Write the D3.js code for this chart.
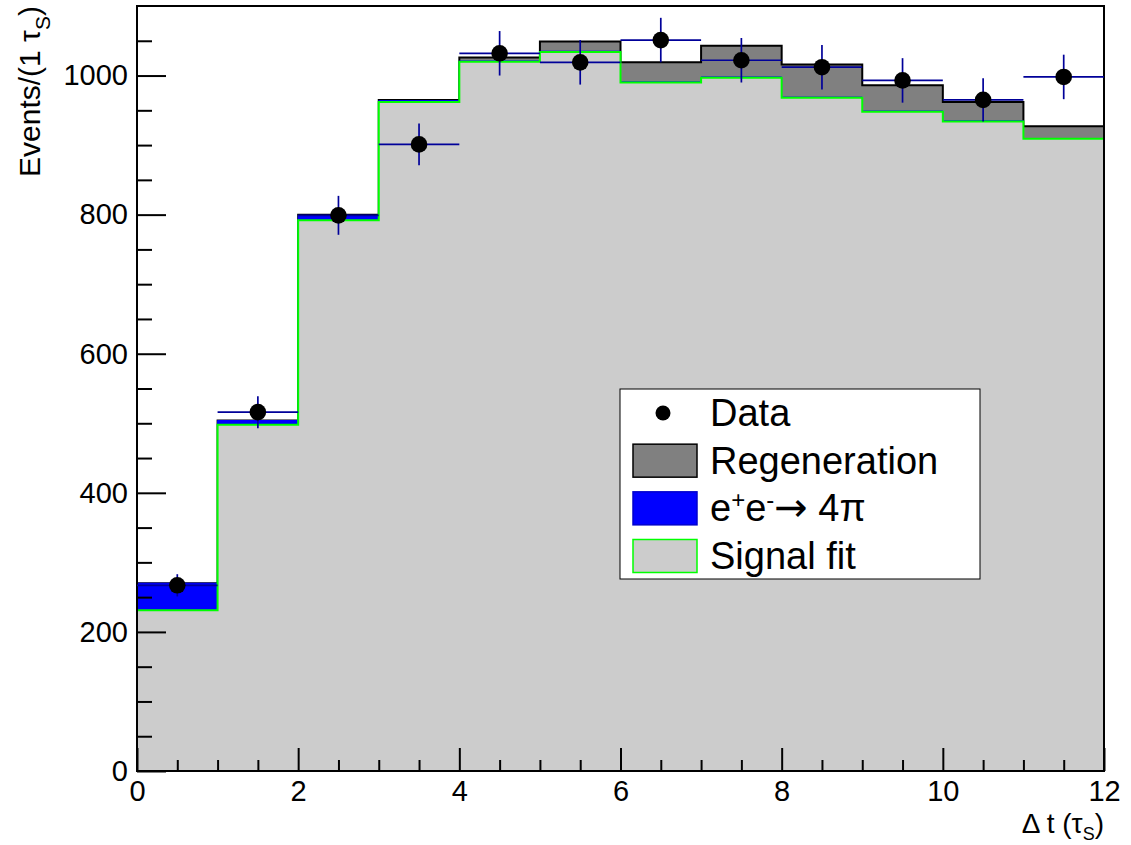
<!DOCTYPE html>
<html>
<head>
<meta charset="utf-8">
<script src="https://cdn.jsdelivr.net/npm/d3@7"></script>
<style>
  html, body { margin: 0; padding: 0; background: #fff; }
  svg text { font-family: "Liberation Sans", Arial, Helvetica, sans-serif; fill: #000; }
</style>
</head>
<body>
<svg id="chart" width="1131" height="845"></svg>
<script>
// bin lower edges, in units of tau_S (bin width 1)
const binLow = [0, 1, 2, 3, 4, 5, 6, 7, 8, 9, 10, 11];
const signalFit = [231, 498, 792, 962, 1020, 1034, 990, 997, 968, 948, 934, 909];
const eeTo4pi = [39, 6, 7, 2, 1, 1, 1, 1, 1, 1, 1, 0];
const regeneration = [0, 0, 1, 1, 5, 14, 28, 45, 47, 37, 27, 18];
const dataCounts = [267, 516, 799, 901, 1032, 1019, 1051, 1022, 1012, 993, 965, 998];
const dataErr = [16, 23, 28, 30, 32, 32, 32, 32, 32, 32, 31, 32];

const yMajor = [0, 200, 400, 600, 800, 1000];
const yMinor = [50, 100, 150, 250, 300, 350, 450, 500, 550, 650, 700, 750, 850, 900, 950, 1050];
const xMajor = [0, 2, 4, 6, 8, 10, 12];
const xMinor = [0.5, 1, 1.5, 2.5, 3, 3.5, 4.5, 5, 5.5, 6.5, 7, 7.5, 8.5, 9, 9.5, 10.5, 11, 11.5];

const svg = d3.select("#chart");
const padL = 137, padR = 1104, padT = 6, padB = 771;

const x = d3.scaleLinear().domain([0, 12]).range([padL, padR]);
const y = d3.scaleLinear().domain([0, 1100]).range([padB, padT]);

// stack table built from the arrays
const table = binLow.map((b, i) => ({
  x0: b,
  signal: signalFit[i],
  pi4: eeTo4pi[i],
  regen: regeneration[i],
}));
const stacked = d3.stack().keys(["signal", "pi4", "regen"])(table);

// repeat last bin so the step reaches the right edge
function stepPoints(layer) {
  const pts = layer.map((d) => ({ x: d.data.x0, v: d[1] }));
  pts.push({ x: 12, v: layer[layer.length - 1][1] });
  return pts;
}

const area = d3
  .area()
  .curve(d3.curveStepAfter)
  .x((d) => x(d.x))
  .y0(y(0))
  .y1((d) => y(d.v));
const line = d3
  .line()
  .curve(d3.curveStepAfter)
  .x((d) => x(d.x))
  .y((d) => y(d.v));

// ROOT draws the stack from the full sum down to the first histogram
const styles = [
  { fill: "#cccccc", stroke: "#00ff00", width: 2 },
  { fill: "#0000ff", stroke: "#0000ff", width: 1 },
  { fill: "#808080", stroke: "#000000", width: 2 },
];
const gHist = svg.append("g");
[2, 1, 0].forEach((k) => {
  const pts = stepPoints(stacked[k]);
  gHist.append("path").attr("d", area(pts)).attr("fill", styles[k].fill);
  gHist
    .append("path")
    .attr("d", line(pts))
    .attr("fill", "none")
    .attr("stroke", styles[k].stroke)
    .attr("stroke-width", styles[k].width);
});

// axes with inward ticks
const gy = svg.append("g").attr("transform", `translate(${padL},0)`);
gy.call(d3.axisLeft(y).tickValues(yMajor).tickSize(-29).tickSizeOuter(0).tickPadding(9).tickFormat(d3.format("d")));
gy.append("g").call(d3.axisLeft(y).tickValues(yMinor).tickSize(-15).tickSizeOuter(0).tickFormat(""));

const gx = svg.append("g").attr("transform", `translate(0,${padB})`);
gx.call(d3.axisBottom(x).tickValues(xMajor).tickSize(-23).tickSizeOuter(0).tickPadding(9).tickFormat(d3.format("d")));
gx.append("g").call(d3.axisBottom(x).tickValues(xMinor).tickSize(-11).tickSizeOuter(0).tickFormat(""));

svg.selectAll(".domain").remove();
svg.selectAll(".tick line").attr("stroke", "#000").attr("stroke-width", 2);
svg.selectAll(".tick text").attr("font-size", 29).attr("font-family", "Liberation Sans, Arial, sans-serif").attr("fill", "#000");

// frame
svg
  .append("rect")
  .attr("x", padL)
  .attr("y", padT)
  .attr("width", padR - padL)
  .attr("height", padB - padT)
  .attr("fill", "none")
  .attr("stroke", "#000")
  .attr("stroke-width", 2);

// data points with errors
const gData = svg.append("g");
const errColor = "#000099";
binLow.forEach((b, i) => {
  const cx = x(b + 0.5);
  gData
    .append("line")
    .attr("x1", x(b))
    .attr("x2", x(b + 1))
    .attr("y1", y(dataCounts[i]))
    .attr("y2", y(dataCounts[i]))
    .attr("stroke", errColor)
    .attr("stroke-width", 1.7);
  gData
    .append("line")
    .attr("x1", cx)
    .attr("x2", cx)
    .attr("y1", y(dataCounts[i] - dataErr[i]))
    .attr("y2", y(dataCounts[i] + dataErr[i]))
    .attr("stroke", errColor)
    .attr("stroke-width", 1.7);
});
gData
  .selectAll("circle")
  .data(dataCounts)
  .join("circle")
  .attr("cx", (d, i) => x(binLow[i] + 0.5))
  .attr("cy", (d) => y(d))
  .attr("r", 8.3)
  .attr("fill", "#000");

// axis titles
const xt = svg
  .append("text")
  .attr("x", padR)
  .attr("y", 833)
  .attr("text-anchor", "end")
  .attr("font-size", 28);
xt.append("tspan").text("Δ t (τ");
xt.append("tspan").attr("dy", 7).attr("font-size", 18).text("S");
xt.append("tspan").attr("dy", -7).text(")");

const yt = svg
  .append("text")
  .attr("transform", `translate(40,${padT}) rotate(-90)`)
  .attr("text-anchor", "end")
  .attr("font-size", 30);
yt.append("tspan").text("Events/(1 τ");
yt.append("tspan").attr("dy", 10).attr("font-size", 21).text("S");
yt.append("tspan").attr("dy", -10).text(")");

// legend
const legend = svg.append("g");
legend
  .append("rect")
  .attr("x", 620)
  .attr("y", 389)
  .attr("width", 360)
  .attr("height", 190)
  .attr("fill", "#fff")
  .attr("stroke", "#000")
  .attr("stroke-width", 1);

const legendRows = [
  { label: "Data", kind: "marker" },
  { label: "Regeneration", fill: "#808080", stroke: "#000" },
  { label: "4π", fill: "#0000ff", stroke: "#0000cc", ee: true },
  { label: "Signal fit", fill: "#cccccc", stroke: "#00ff00" },
];
const rowY = d3.scalePoint().domain(d3.range(legendRows.length)).range([413, 556]);
legendRows.forEach((r, i) => {
  const cy = rowY(i);
  if (r.kind === "marker") {
    legend.append("circle").attr("cx", 663).attr("cy", cy).attr("r", 7.5).attr("fill", "#000");
  } else {
    legend
      .append("rect")
      .attr("x", 633)
      .attr("y", cy - 16.5)
      .attr("width", 64)
      .attr("height", 33)
      .attr("fill", r.fill)
      .attr("stroke", r.stroke)
      .attr("stroke-width", 1.5);
  }
  const t = legend
    .append("text")
    .attr("x", 710)
    .attr("y", cy + 13)
    .attr("font-size", 38);
  if (r.ee) {
    t.append("tspan").text("e");
    t.append("tspan").attr("dy", -13).attr("font-size", 24).text("+");
    t.append("tspan").attr("dy", 13).text("e");
    t.append("tspan").attr("dy", -13).attr("font-size", 24).text("-");
    t.append("tspan").attr("dy", 13).attr("font-family", "DejaVu Sans").attr("font-size", 40).text("→");
    t.append("tspan").text(" " + r.label);
  } else {
    t.text(r.label);
  }
});
</script>
</body>
</html>
